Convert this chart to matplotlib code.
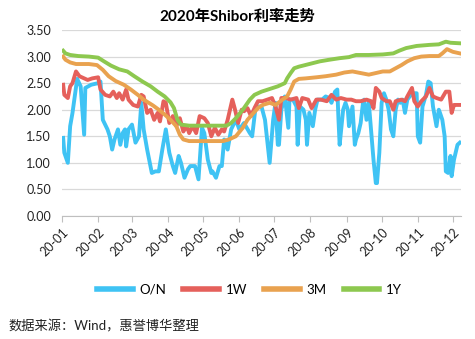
import matplotlib
matplotlib.use("Agg")
import matplotlib.pyplot as plt
import pandas as pd

# ---- data (dates are MM-DD in 2020) ----
on_dates = ["01-02", "01-03", "01-06", "01-08", "01-10", "01-14", "01-17", "01-20", "01-21", "01-26",
            "02-01", "02-03", "02-05", "02-09", "02-11", "02-13", "02-15", "02-18", "02-20", "02-22",
            "02-24", "02-25", "02-27", "03-01", "03-04", "03-07", "03-09", "03-11", "03-14", "03-18",
            "03-21", "03-24", "03-27", "03-30", "04-02", "04-05", "04-07", "04-10", "04-12", "04-15",
            "04-18", "04-20", "04-24", "04-27", "04-30", "05-02", "05-05", "05-08", "05-09", "05-12",
            "05-15", "05-17", "05-19", "05-22", "05-25", "05-29", "06-01", "06-05", "06-10", "06-12",
            "06-15", "06-20", "06-23", "06-27", "06-30", "07-02", "07-04", "07-05", "07-07", "07-10",
            "07-13", "07-14", "07-17", "07-20", "07-21", "07-23", "07-26", "07-28", "07-29", "07-31",
            "08-03", "08-05", "08-07", "08-11", "08-14", "08-17", "08-19", "08-22", "08-24", "08-25",
            "08-26", "08-29", "08-31", "09-02", "09-03", "09-06", "09-08", "09-09", "09-11", "09-13",
            "09-15", "09-16", "09-18", "09-20", "09-24", "09-26", "09-27", "09-29", "10-01", "10-03",
            "10-05", "10-07", "10-09", "10-11", "10-13", "10-15", "10-17", "10-19", "10-21", "10-23",
            "10-25", "10-28", "10-31", "11-01", "11-03", "11-05", "11-08", "11-10", "11-12", "11-14",
            "11-16", "11-17", "11-19", "11-20", "11-22", "11-24", "11-25", "11-27", "11-29", "11-30",
            "12-02", "12-05", "12-07"]
on_vals = [1.47, 1.19, 1.00, 1.69, 1.94, 2.58, 2.44, 1.53, 2.41, 2.47,
           2.50, 2.53, 1.81, 1.63, 1.50, 1.25, 1.44, 1.63, 1.34, 1.56,
           1.63, 1.31, 1.63, 1.72, 1.38, 1.50, 2.13, 1.63, 1.25, 0.81,
           0.84, 0.84, 1.25, 1.63, 1.19, 0.94, 0.81, 1.13, 1.00, 0.72,
           0.88, 0.94, 0.94, 0.69, 1.66, 1.56, 1.06, 0.81, 0.84, 0.72,
           0.94, 0.94, 1.44, 1.25, 1.63, 1.81, 1.63, 1.75, 1.56, 1.50,
           2.06, 2.06, 1.81, 1.00, 1.81, 2.13, 1.34, 1.34, 2.00, 2.25,
           1.66, 2.19, 2.19, 2.06, 1.34, 2.06, 2.00, 1.81, 1.34, 1.94,
           1.69, 2.00, 2.19, 2.19, 2.25, 2.22, 2.13, 2.34, 2.38, 1.81,
           1.34, 2.00, 2.13, 2.00, 1.69, 2.06, 1.34, 1.44, 1.56, 1.75,
           2.13, 2.19, 1.81, 2.13, 1.06, 0.62, 0.62, 1.19, 2.13, 2.31,
           2.19, 2.00, 1.63, 1.50, 2.00, 2.19, 2.13, 2.19, 1.94, 2.19,
           2.25, 2.31, 2.31, 1.50, 1.38, 2.06, 2.28, 2.53, 2.50, 2.06,
           1.81, 1.69, 2.00, 1.94, 1.81, 1.50, 0.84, 0.81, 1.13, 0.75,
           1.06, 1.34, 1.38]

w1_dates = ["01-02", "01-03", "01-06", "01-08", "01-10", "01-13", "01-16", "01-20", "01-23", "01-27",
            "02-01", "02-03", "02-07", "02-11", "02-14", "02-17", "02-19", "02-22", "02-25", "02-27",
            "03-02", "03-06", "03-09", "03-11", "03-14", "03-17", "03-20", "03-23", "03-25", "03-28",
            "03-30", "04-02", "04-05", "04-08", "04-11", "04-14", "04-17", "04-19", "04-22", "04-25",
            "04-28", "05-02", "05-05", "05-08", "05-11", "05-14", "05-17", "05-19", "05-22", "05-26",
            "05-28", "05-31", "06-03", "06-05", "06-08", "06-11", "06-14", "06-17", "06-21", "06-25",
            "06-29", "07-02", "07-05", "07-07", "07-11", "07-15", "07-20", "07-22", "07-25", "07-30",
            "08-02", "08-06", "08-10", "08-15", "08-19", "08-23", "08-27", "09-01", "09-05", "09-09",
            "09-13", "09-18", "09-22", "09-24", "09-26", "09-29", "10-01", "10-05", "10-08", "10-11",
            "10-13", "10-18", "10-21", "10-23", "10-27", "10-29", "11-01", "11-04", "11-08", "11-11",
            "11-14", "11-17", "11-21", "11-25", "11-28", "11-30", "12-02", "12-04", "12-07"]
w1_vals = [2.47, 2.28, 2.22, 2.44, 2.50, 2.72, 2.63, 2.59, 2.56, 2.59,
           2.61, 2.38, 2.28, 2.25, 2.34, 2.22, 2.31, 2.19, 2.38, 2.19,
           2.09, 2.06, 2.28, 2.25, 1.94, 2.00, 1.81, 1.94, 1.78, 2.16,
           2.13, 1.75, 1.88, 1.69, 1.84, 1.59, 1.69, 1.56, 1.69, 1.56,
           1.88, 1.84, 1.75, 1.50, 1.66, 1.53, 1.63, 1.59, 1.81, 2.19,
           2.03, 1.75, 2.00, 1.97, 2.03, 1.88, 2.03, 2.16, 2.16, 2.19,
           2.22, 2.06, 1.81, 2.22, 2.22, 2.19, 2.22, 2.03, 2.22, 2.19,
           2.03, 2.19, 2.19, 2.16, 2.28, 2.19, 2.22, 2.19, 2.19, 2.16,
           2.16, 2.19, 2.16, 2.03, 2.41, 2.34, 2.22, 2.16, 2.16, 2.00,
           2.16, 2.19, 2.16, 2.25, 2.41, 2.16, 2.06, 2.16, 2.25, 2.41,
           2.25, 2.22, 2.19, 2.34, 2.34, 1.94, 2.09, 2.09, 2.09]

m3_dates = ["01-02", "01-04", "01-08", "01-13", "01-18", "01-24", "01-31", "02-05", "02-10", "02-16",
            "02-23", "02-29", "03-06", "03-11", "03-19", "03-24", "03-29", "04-03", "04-08", "04-11",
            "04-14", "04-19", "05-04", "05-18", "05-23", "05-29", "06-04", "06-08", "06-12", "06-17",
            "06-21", "06-27", "07-02", "07-08", "07-12", "07-15", "07-18", "07-22", "07-28", "08-06",
            "08-14", "08-23", "08-30", "09-06", "09-13", "09-20", "09-26", "10-02", "10-08", "10-13",
            "10-18", "10-23", "10-29", "11-04", "11-11", "11-19", "11-22", "11-26", "12-01", "12-07"]
m3_vals = [3.00, 2.94, 2.89, 2.86, 2.86, 2.86, 2.84, 2.75, 2.63, 2.54,
           2.47, 2.38, 2.28, 2.19, 2.08, 2.00, 1.91, 1.81, 1.69, 1.53,
           1.44, 1.41, 1.41, 1.41, 1.44, 1.50, 1.66, 1.81, 1.91, 2.03,
           2.09, 2.13, 2.09, 2.19, 2.25, 2.38, 2.53, 2.58, 2.59, 2.61,
           2.63, 2.66, 2.70, 2.72, 2.69, 2.66, 2.69, 2.72, 2.72, 2.78,
           2.84, 2.91, 2.97, 3.00, 3.01, 3.01, 3.06, 3.14, 3.09, 3.06]

y1_dates = ["01-02", "01-04", "01-08", "01-15", "01-24", "02-01", "02-06", "02-12", "02-19", "02-26",
            "03-03", "03-10", "03-17", "03-23", "03-29", "04-03", "04-06", "04-09", "04-12", "04-19",
            "05-04", "05-21", "05-25", "05-29", "06-04", "06-10", "06-14", "06-20", "06-27", "07-04",
            "07-10", "07-12", "07-15", "07-18", "07-22", "07-31", "08-09", "08-17", "08-26", "09-03",
            "09-09", "09-20", "10-02", "10-11", "10-16", "10-22", "10-31", "11-11", "11-19", "11-25",
            "11-29", "12-07"]
y1_vals = [3.11, 3.06, 3.03, 3.01, 3.00, 2.98, 2.91, 2.83, 2.76, 2.72,
           2.63, 2.53, 2.44, 2.34, 2.25, 2.14, 2.03, 1.81, 1.72, 1.70,
           1.70, 1.70, 1.75, 1.84, 2.00, 2.19, 2.28, 2.34, 2.39, 2.44,
           2.50, 2.59, 2.69, 2.78, 2.81, 2.86, 2.91, 2.94, 2.97, 2.99,
           3.03, 3.03, 3.04, 3.06, 3.11, 3.16, 3.20, 3.22, 3.23, 3.28,
           3.26, 3.25]

series_names = ["O/N", "1W", "3M", "1Y"]
colors = ["#3FC3F4", "#E5605B", "#E9A24F", "#8DC84F"]
month_labels = ["20-01", "20-02", "20-03", "20-04", "20-05", "20-06",
                "20-07", "20-08", "20-09", "20-10", "20-11", "20-12"]
y_ticks = [0.0, 0.5, 1.0, 1.5, 2.0, 2.5, 3.0, 3.5]


def to_dates(mmdd):
    return pd.to_datetime(["2020-" + d for d in mmdd])


fig = plt.figure(figsize=(4.75, 3.39), dpi=100)
ax = fig.add_axes([0.1305, 0.3628, 0.84, 0.5487])

all_series = [(on_dates, on_vals), (w1_dates, w1_vals), (m3_dates, m3_vals), (y1_dates, y1_vals)]
for (d, v), name, c in zip(all_series, series_names, colors):
    ax.plot(to_dates(d), v, color=c, linewidth=2.8, label=name, solid_joinstyle="round")

ax.set_ylim(0, 3.5)
ax.set_yticks(y_ticks)
ax.set_yticklabels([f"{t:.2f}" for t in y_ticks])
ax.set_xlim(pd.Timestamp("2020-01-01"), pd.Timestamp("2020-12-08"))
month_starts = pd.date_range("2020-01-01", periods=12, freq="MS")
ax.set_xticks(month_starts)
ax.set_xticklabels(month_labels, rotation=45, ha="right", rotation_mode="anchor")

ax.grid(axis="y", color="#D9D9D9", linewidth=0.9)
ax.set_axisbelow(True)
for s in ["top", "right", "left"]:
    ax.spines[s].set_visible(False)
ax.spines["bottom"].set_color("#BFBFBF")
ax.tick_params(axis="y", length=0, labelsize=9, colors="#222222", pad=8)
ax.tick_params(axis="x", length=4, color="#BFBFBF", labelsize=9, labelcolor="#222222", pad=3)
for lab in ax.get_xticklabels() + ax.get_yticklabels():
    lab.set_family(["Lato", "DejaVu Sans"])

fig.text(0.5, 0.952, "2020年Shibor利率走势", ha="center", va="center",
         fontsize=11, fontweight="bold", family=["Lato", "Noto Sans CJK SC"])

leg = fig.legend(loc="center", bbox_to_anchor=(0.525, 0.145), ncol=4, frameon=False,
                 handlelength=2.7, columnspacing=1.3, handletextpad=0.5,
                 prop={"family": ["Lato", "DejaVu Sans"], "size": 9.5})
for line in leg.get_lines():
    line.set_linewidth(4)

fig.text(0.017, 0.038, "数据来源：Wind，惠誉博华整理", ha="left", va="center",
         fontsize=9.5, family=["Lato", "Noto Sans CJK SC"], color="#222222")

fig.savefig("out.png", dpi=100)
